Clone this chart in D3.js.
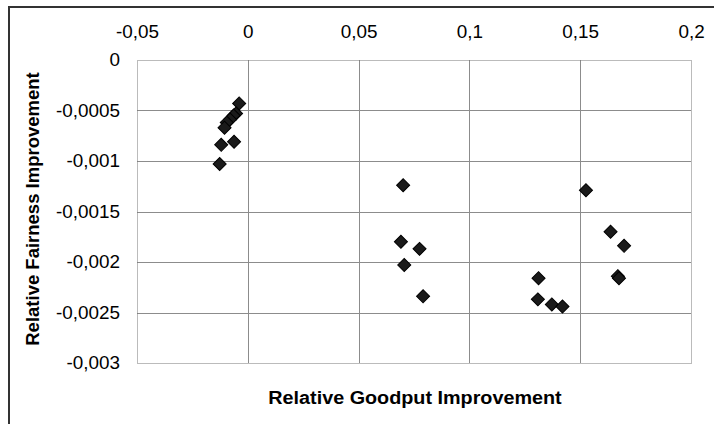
<!DOCTYPE html>
<html>
<head>
<meta charset="utf-8">
<script src="https://cdn.jsdelivr.net/npm/d3@7"></script>
<style>
  body { margin: 0; background: #fff; }
  svg { display: block; font-family: "Liberation Sans", Arial, sans-serif; }
</style>
</head>
<body>
<div id="chart"></div>
<script>
// set the dimensions of the picture and of the plot area
const width = 714;
const height = 424;
const margin = { top: 60, right: 23, bottom: 61, left: 137 };

// data
const goodput = [
  -0.0039, -0.0053, -0.0064, -0.0080, -0.0095, -0.0105, -0.0062, -0.0120, -0.0127,
  0.0701, 0.0691, 0.0775, 0.0706, 0.0791,
  0.1526, 0.1637, 0.1698, 0.1670, 0.1675, 0.1312, 0.1309, 0.1372, 0.1420
];
const fairness = [
  -0.00043, -0.00053, -0.00055, -0.00059, -0.00062, -0.00067, -0.00081, -0.00084, -0.00103,
  -0.00124, -0.00180, -0.00187, -0.00203, -0.00234,
  -0.00129, -0.00170, -0.00184, -0.00214, -0.00216, -0.00216, -0.00237, -0.00242, -0.00244
];
const xTicks = [-0.05, 0, 0.05, 0.1, 0.15, 0.2];
const xTickLabels = ["-0,05", "0", "0,05", "0,1", "0,15", "0,2"];
const yTicks = [0, -0.0005, -0.001, -0.0015, -0.002, -0.0025, -0.003];
const yTickLabels = ["0", "-0,0005", "-0,001", "-0,0015", "-0,002", "-0,0025", "-0,003"];

const svg = d3.select("#chart")
    .append("svg")
    .attr("width", width)
    .attr("height", height);

// outer chart frame (runs off the right and bottom of the picture)
svg.append("path")
    .attr("d", "M9," + (height + 5) + "V7H" + (width + 5))
    .style("fill", "none")
    .style("stroke", "#333")
    .style("stroke-width", 2);

const x = d3.scaleLinear()
    .domain([-0.05, 0.2])
    .range([margin.left, width - margin.right]);

const y = d3.scaleLinear()
    .domain([0, -0.003])
    .range([margin.top, height - margin.bottom]);

// grid lines
svg.append("g").selectAll("line")
    .data(yTicks.slice(1, -1))
    .enter().append("line")
    .attr("x1", x(-0.05)).attr("x2", x(0.2))
    .attr("y1", d => Math.round(y(d)) + 0.5)
    .attr("y2", d => Math.round(y(d)) + 0.5)
    .style("stroke", "#8c8c8c");

svg.append("g").selectAll("line")
    .data(xTicks.slice(1, -1))
    .enter().append("line")
    .attr("x1", d => Math.round(x(d)) + 0.5)
    .attr("x2", d => Math.round(x(d)) + 0.5)
    .attr("y1", y(0)).attr("y2", y(-0.003))
    .style("stroke", "#8c8c8c");

// dotted plot-area border
svg.append("rect")
    .attr("x", x(-0.05) + 0.5)
    .attr("y", y(0) + 0.5)
    .attr("width", x(0.2) - x(-0.05))
    .attr("height", y(-0.003) - y(0))
    .style("fill", "none")
    .style("stroke", "#777")
    .style("stroke-dasharray", "1,1");

// axes: labels only, no domain or tick marks
const xAxis = d3.axisTop(x)
    .tickValues(xTicks)
    .tickFormat((d, i) => xTickLabels[i])
    .tickSize(0)
    .tickPadding(0);

svg.append("g")
    .attr("transform", "translate(0,38)")
    .call(xAxis)
    .call(g => g.select(".domain").remove())
    .selectAll("text")
    .attr("y", 0)
    .attr("dy", 0)
    .attr("transform", "scale(1.05,1)")
    .style("font-size", "18px")
    .style("font-family", "Liberation Sans, Arial, sans-serif")
    .style("fill", "#000");

const yAxis = d3.axisLeft(y)
    .tickValues(yTicks)
    .tickFormat((d, i) => yTickLabels[i])
    .tickSize(0)
    .tickPadding(0);

svg.append("g")
    .attr("transform", "translate(120,0)")
    .call(yAxis)
    .call(g => g.select(".domain").remove())
    .selectAll("text")
    .attr("transform", "scale(1.05,1)")
    .style("font-size", "18px")
    .style("font-family", "Liberation Sans, Arial, sans-serif")
    .style("fill", "#000");

// axis titles
svg.append("text")
    .attr("transform", "translate(415,404) scale(1.07,1)")
    .attr("text-anchor", "middle")
    .style("font-size", "18.5px")
    .style("font-weight", "bold")
    .text("Relative Goodput Improvement");

svg.append("text")
    .attr("transform", "translate(39,209) rotate(-90)")
    .attr("text-anchor", "middle")
    .style("font-size", "18.5px")
    .style("font-weight", "bold")
    .text("Relative Fairness Improvement");

// diamond markers
const diamond = d3.symbol().type(d3.symbolSquare).size(85);

svg.append("g").selectAll("path")
    .data(d3.range(goodput.length))
    .enter().append("path")
    .attr("d", diamond)
    .attr("transform", i => "translate(" + x(goodput[i]) + "," + y(fairness[i]) + ") rotate(45)")
    .style("fill", "#1a1a1a")
    .style("stroke", "#000")
    .style("stroke-width", 1);
</script>
</body>
</html>
